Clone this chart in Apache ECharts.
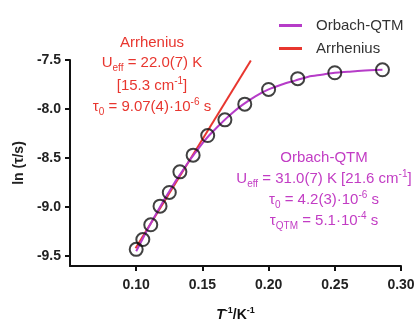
<!DOCTYPE html>
<html>
<head>
<meta charset="utf-8">
<script src="https://cdn.jsdelivr.net/npm/echarts@6/dist/echarts.min.js"></script>
<style>html,body{margin:0;padding:0;background:#fff}#c{width:419px;height:327px}</style>
</head>
<body>
<div id="c"></div>
<script>
// Measured relaxation data: x = 1/T (K^-1), y = ln(tau/s)
const dataX = [0.100, 0.105, 0.111, 0.118, 0.125, 0.133, 0.143, 0.154, 0.167, 0.182, 0.200, 0.222, 0.250, 0.286];
const dataY = [-9.43, -9.33, -9.18, -8.99, -8.85, -8.64, -8.47, -8.27, -8.11, -7.95, -7.80, -7.69, -7.63, -7.60];
// Orbach-QTM fit curve
const fitX = [0.100, 0.105, 0.110, 0.115, 0.120, 0.125, 0.130, 0.135, 0.140, 0.145, 0.150, 0.155, 0.160, 0.170, 0.180, 0.190, 0.200, 0.210, 0.220, 0.230, 0.240, 0.250, 0.260, 0.270, 0.286];
const fitY = [-9.45, -9.32, -9.19, -9.07, -8.95, -8.84, -8.73, -8.63, -8.53, -8.44, -8.35, -8.27, -8.20, -8.07, -7.96, -7.87, -7.80, -7.75, -7.71, -7.67, -7.65, -7.63, -7.62, -7.61, -7.60];
// Arrhenius fit line (end points)
const arrX = [0.0995, 0.1866];
const arrY = [-9.42, -7.505];
// Tick labels
const xTicks = [0.10, 0.15, 0.20, 0.25, 0.30];
const yTicks = [-9.5, -9.0, -8.5, -8.0, -7.5];

const FONT = '"Liberation Sans", Arial, sans-serif';
const MAG = '#b63cc8';
const MAGT = '#c23cc4';
const RED = '#e8362f';

const zip = (a, b) => a.map((v, i) => [v, b[i]]);

const chart = echarts.init(document.getElementById('c'), null, {renderer: 'canvas'});

function txt(text, x, y, color, rich) {
  return {
    type: 'text', x: x, y: y, z: 100,
    style: {text: text, fill: color, align: 'center', verticalAlign: 'middle',
      fontFamily: FONT, fontSize: 15, rich: rich}
  };
}
function richFor(color) {
  return {
    a: {fontSize: 15, fontFamily: FONT, fill: color, lineHeight: 20, verticalAlign: 'middle'},
    s: {fontSize: 10, fontFamily: FONT, fill: color, lineHeight: 10, verticalAlign: 'bottom'},
    p: {fontSize: 10, fontFamily: FONT, fill: color, lineHeight: 10, verticalAlign: 'top'}
  };
}
const rr = richFor(RED), rm = richFor(MAGT);

chart.setOption({
  animation: false,
  backgroundColor: '#fff',
  grid: {left: 70, right: 18, top: 60, bottom: 49},
  legend: {
    orient: 'vertical', left: 274, top: 13, itemWidth: 23, itemHeight: 3, itemGap: 8,
    icon: 'rect', data: ['Orbach-QTM', 'Arrhenius'],
    textStyle: {fontFamily: FONT, fontSize: 15, color: '#333', padding: [0, 0, 0, 9]}
  },
  xAxis: {
    type: 'value', min: 0.05, max: 0.30,
    name: '{i|T}{p|-1}{n|/K}{p|-1}', nameLocation: 'middle', nameGap: 40,
    nameTextStyle: {rich: {
      i: {fontFamily: FONT, fontSize: 14, fontStyle: 'italic', fontWeight: 'bold', color: '#111', lineHeight: 18, verticalAlign: 'middle'},
      n: {fontFamily: FONT, fontSize: 14, fontWeight: 'bold', color: '#111', lineHeight: 18, verticalAlign: 'middle'},
      p: {fontFamily: FONT, fontSize: 9, fontWeight: 'bold', color: '#111', lineHeight: 9, verticalAlign: 'top'}
    }},
    axisLine: {show: true, onZero: false, lineStyle: {color: '#111', width: 2}},
    axisTick: {show: true, length: 5, lineStyle: {color: '#111', width: 2}, customValues: xTicks},
    axisLabel: {customValues: xTicks, margin: 12, fontFamily: FONT, fontSize: 14, fontWeight: 'bold', color: '#222',
      formatter: v => v.toFixed(2)},
    splitLine: {show: false}
  },
  yAxis: {
    type: 'value', min: -9.6, max: -7.5,
    name: 'ln (τ/s)', nameLocation: 'middle', nameGap: 44, nameRotate: 90,
    nameTextStyle: {fontFamily: FONT, fontSize: 14, fontWeight: 'bold', color: '#222'},
    axisLine: {show: true, onZero: false, lineStyle: {color: '#111', width: 2}},
    axisTick: {show: true, length: 5, lineStyle: {color: '#111', width: 2}, customValues: yTicks},
    axisLabel: {customValues: yTicks, margin: 9, fontFamily: FONT, fontSize: 14, fontWeight: 'bold', color: '#222',
      formatter: v => v.toFixed(1)},
    splitLine: {show: false}
  },
  series: [
    {name: 'Arrhenius', type: 'line', data: zip(arrX, arrY), showSymbol: false, symbol: 'none', z: 2,
      lineStyle: {color: RED, width: 2}, itemStyle: {color: RED}},
    {name: 'Orbach-QTM', type: 'line', data: zip(fitX, fitY), showSymbol: false, symbol: 'none', smooth: 0.3, z: 3,
      lineStyle: {color: MAG, width: 2}, itemStyle: {color: MAG}},
    {name: 'data', type: 'scatter', data: zip(dataX, dataY), symbol: 'circle', symbolSize: 13, z: 5,
      itemStyle: {color: 'rgba(0,0,0,0)', borderColor: '#111', borderWidth: 2}}
  ],
  graphic: [
    txt('{a|Arrhenius}', 152, 43, RED, rr),
    txt('{a|U}{s|eff}{a| = 22.0(7) K}', 152, 63, RED, rr),
    txt('{a|[15.3 cm}{p|-1}{a|]}', 152, 86, RED, rr),
    txt('{a|τ}{s|0}{a| = 9.07(4)·10}{p|-6}{a| s}', 152, 107, RED, rr),
    txt('{a|Orbach-QTM}', 324, 158, MAGT, rm),
    txt('{a|U}{s|eff}{a| = 31.0(7) K [21.6 cm}{p|-1}{a|]}', 324, 179, MAGT, rm),
    txt('{a|τ}{s|0}{a| = 4.2(3)·10}{p|-6}{a| s}', 324, 200, MAGT, rm),
    txt('{a|τ}{s|QTM}{a| = 5.1·10}{p|-4}{a| s}', 324, 221, MAGT, rm)
  ]
});
</script>
</body>
</html>
